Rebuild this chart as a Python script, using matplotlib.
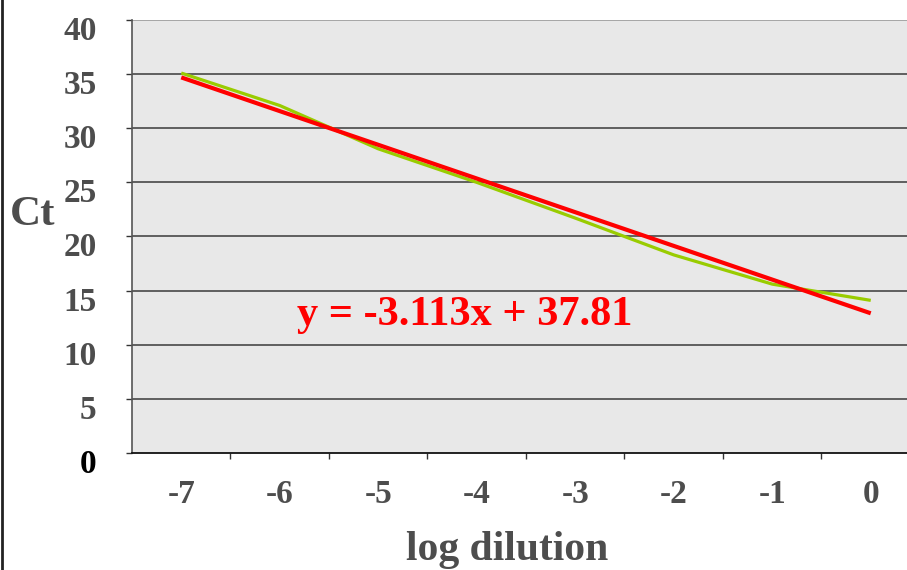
import numpy as np
import matplotlib
matplotlib.use('Agg')
import matplotlib.pyplot as plt
import matplotlib.transforms as mtransforms
from matplotlib.lines import Line2D

# Data
dilutions = [-7, -6, -5, -4, -3, -2, -1, 0]
ct_values = [35.1, 32.1, 28.1, 25.0, 21.7, 18.3, 15.6, 14.1]
y_ticks = [0, 5, 10, 15, 20, 25, 30, 35, 40]

# Excel-style linear trend (x is the category index 1..8)
slope = -3.113
intercept = 37.81


def make_chart():
    W, H = 907, 570
    fig = plt.figure(figsize=(W / 100, H / 100), dpi=100)
    fig.patch.set_facecolor('white')

    # plot area in pixels: left 132, top 20, bottom 453, 98.5 px per category
    left, top, bottom, step = 132, 20, 453, 98.5
    ax = fig.add_axes([left / W, (H - bottom) / H,
                       8 * step / W, (bottom - top) / H])
    ax.set_facecolor('#e8e8e8')

    idx = np.arange(1, len(dilutions) + 1)
    ax.plot(idx, ct_values, color='#99cc00', lw=2.3, solid_capstyle='butt',
            zorder=3)
    trend = slope * idx + intercept
    ax.plot(idx, trend, color='#ff0000', lw=3.0, solid_capstyle='butt',
            zorder=4)

    ax.set_xlim(0.5, 8.5)
    ax.set_ylim(0, 40)

    # gridlines
    for v in y_ticks[1:-1]:
        ax.axhline(v, color='#3a3a3a', lw=1.1, zorder=1)

    for s in ['top', 'right']:
        ax.spines[s].set_visible(False)
    ax.axhline(40, color='#9a9a9a', lw=1.2, zorder=1)
    ax.spines['left'].set_color('#555555')
    ax.spines['left'].set_linewidth(1.2)
    ax.spines['bottom'].set_color('#111111')
    ax.spines['bottom'].set_linewidth(1.3)

    serif = ['Liberation Serif', 'DejaVu Serif']
    ax.set_yticks(y_ticks)
    ax.set_yticklabels([str(v) for v in y_ticks], family=serif,
                       fontweight='bold', fontsize=24, color='#4d4d4d')
    ax.get_yticklabels()[0].set_color('black')
    ax.tick_params(axis='y', direction='out', length=4.5, width=1,
                   color='#333333', pad=21)
    # Excel draws the value labels a little below their tick
    shift = mtransforms.ScaledTranslation(0, -8 / 100, fig.dpi_scale_trans)
    for lab in ax.get_yticklabels():
        lab.set_transform(lab.get_transform() + shift)

    ax.set_xticks(idx)
    ax.set_xticklabels([str(d) for d in dilutions], family=serif,
                       fontweight='bold', fontsize=24, color='#4d4d4d')
    ax.set_xticks(np.arange(1.5, 8.5, 1.0), minor=True)
    ax.tick_params(axis='x', which='major', length=0, pad=19)
    ax.tick_params(axis='x', which='minor', direction='out', length=4.5,
                   width=1, color='#333333')

    # equation of trend line
    fig.text(465 / W, 1 - 315 / H, 'y = -3.113x + 37.81', family=serif,
             fontweight='bold', fontsize=30.5, color='#ff0000',
             ha='center', va='center')

    # axis titles
    fig.text(33 / W, 1 - 215 / H, 'Ct', family=serif, fontweight='bold',
             fontsize=31, color='#4d4d4d', ha='center', va='center')
    fig.text(507 / W, 1 - 550 / H, 'log dilution', family=serif,
             fontweight='bold', fontsize=30, color='#4d4d4d',
             ha='center', va='center')

    # chart frame line at the left edge
    fig.add_artist(Line2D([1.5 / W, 1.5 / W], [0, 1], color='#222222',
                          lw=2, transform=fig.transFigure))

    fig.savefig('out.png', dpi=100, facecolor='white')
    plt.close(fig)


if __name__ == '__main__':
    make_chart()
